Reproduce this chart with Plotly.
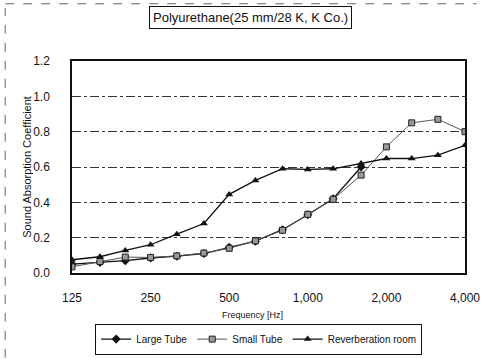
import plotly.graph_objects as go

freqs = [125, 160, 200, 250, 315, 400, 500, 630, 800, 1000, 1250, 1600, 2000, 2500, 3150, 4000]
large_tube = [0.05, 0.06, 0.07, 0.085, 0.095, 0.11, 0.145, 0.18, 0.245, 0.33, 0.42, 0.60]
small_tube = [0.035, 0.065, 0.09, 0.088, 0.097, 0.113, 0.14, 0.182, 0.242, 0.332, 0.417, 0.554, 0.714, 0.85, 0.87, 0.80]
reverb_room = [0.075, 0.092, 0.128, 0.16, 0.22, 0.28, 0.445, 0.524, 0.59, 0.586, 0.59, 0.62, 0.648, 0.648, 0.667, 0.723]

tick_vals = [125, 250, 500, 1000, 2000, 4000]
tick_text = ["125", "250", "500", "1,000", "2,000", "4,000"]
y_ticks = [0.0, 0.2, 0.4, 0.6, 0.8, 1.0, 1.2]

FONT = "Liberation Sans, Arial, sans-serif"

fig = go.Figure()
fig.add_trace(go.Scatter(
    x=freqs[:len(large_tube)], y=large_tube, name="Large Tube", mode="lines+markers",
    line=dict(color="#111111", width=1.3),
    marker=dict(symbol="diamond", size=7, color="#111111")))
fig.add_trace(go.Scatter(
    x=freqs, y=small_tube, name="Small Tube", mode="lines+markers",
    line=dict(color="#555555", width=1),
    marker=dict(symbol="square", size=6, color="#999999", line=dict(color="#222222", width=1))))
fig.add_trace(go.Scatter(
    x=freqs, y=reverb_room, name="Reverberation room", mode="lines+markers",
    line=dict(color="#111111", width=1.3),
    marker=dict(symbol="triangle-up", size=7, color="#111111")))

fig.update_layout(
    width=492, height=359,
    margin=dict(l=72, r=27, t=61, b=86, autoexpand=False),
    paper_bgcolor="white", plot_bgcolor="white",
    font=dict(family=FONT, size=12, color="#111111"),
    showlegend=True,
    legend=dict(orientation="h", x=0.475, xanchor="center", y=-0.385, yanchor="bottom",
                bordercolor="#111111", borderwidth=1, bgcolor="white",
                font=dict(family=FONT, size=10), itemwidth=30, tracegroupgap=0),
    xaxis=dict(type="log", range=[2.0969, 3.60206], tickvals=tick_vals, ticktext=tick_text,
               showgrid=False, zeroline=False, showline=True, linecolor="#111111", linewidth=1.5,
               mirror=True, ticks="", ticklabelstandoff=13, tickfont=dict(size=12)),
    yaxis=dict(range=[0, 1.2], tickvals=y_ticks, tickformat=".1f",
               showgrid=True, gridcolor="#333333", griddash="dashdot", gridwidth=0.8,
               zeroline=False, showline=True, linecolor="#111111", linewidth=1.5,
               mirror=True, ticks="", ticklabelstandoff=18, tickfont=dict(size=12)),
    annotations=[
        dict(text="Polyurethane(25 mm/28 K, K Co.)", xref="paper", yref="paper",
             x=0.455, y=1.205, xanchor="center", yanchor="middle", showarrow=False,
             font=dict(family=FONT, size=13), bordercolor="#111111", borderwidth=1,
             borderpad=3, bgcolor="white"),
        dict(text="Frequency [Hz]", xref="paper", yref="paper", x=0.46, y=-0.2,
             xanchor="center", yanchor="middle", showarrow=False,
             font=dict(family=FONT, size=9)),
        dict(text="Sound Absorption Coefficient", xref="paper", yref="paper", x=-0.115, y=0.5,
             xanchor="center", yanchor="middle", textangle=-90, showarrow=False,
             font=dict(family=FONT, size=11)),
    ],
    shapes=[
        dict(type="line", xref="paper", yref="paper", x0=-0.17, x1=1.03, y0=1.27, y1=1.27,
             line=dict(color="#666666", width=1, dash="dash")),
        dict(type="line", xref="paper", yref="paper", x0=-0.17, x1=-0.17, y0=-0.40, y1=1.25,
             line=dict(color="#666666", width=1, dash="dash")),
    ],
)

fig.write_html("out.html")
